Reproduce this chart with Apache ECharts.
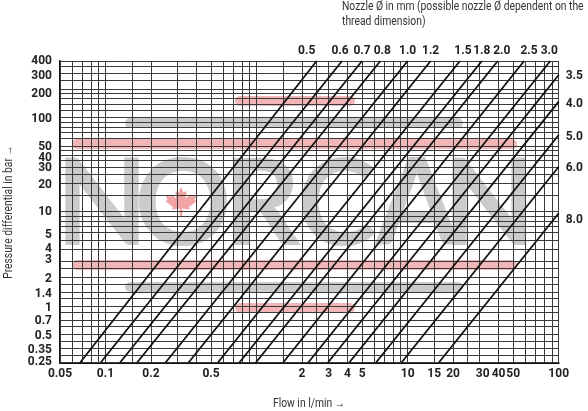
<!DOCTYPE html>
<html><head><meta charset="utf-8">
<script src="https://cdn.jsdelivr.net/npm/echarts@6/dist/echarts.min.js"></script>
<style>html,body{margin:0;padding:0;background:#fff}#c{width:588px;height:411px}</style>
</head><body><div id="c"></div>
<script>
// Nozzle diameters (mm) and line endpoints
const nozzleLabels = ['0.5','0.6','0.7','0.8','1.0','1.2','1.5','1.8','2.0','2.5','3.0','3.5','4.0','5.0','6.0','8.0'];
const startFlow    = [0.068,0.093,0.125,0.162,0.25,0.355,0.555,0.77,0.99,1.5,2.2,2.97,4.11,6.18,9.11,16.1]; // l/min at 0.25 bar
const endFlow      = [2.5,3.68,4.99,6.6,10.0,14.2,22.2,31,39.5,59,88,100,100,100,100,100];
const endPressure  = [400,400,400,400,400,400,400,400,400,400,400,284,148,65.4,30.1,9.63];
const startPressure = 0.25;

const xGridValues = [0.05,0.06,0.07,0.08,0.09,0.1,0.15,0.2,0.3,0.4,0.5,0.6,0.7,0.8,0.9,1,1.5,2,2.5,3,4,5,6,7,8,9,10,15,20,25,30,40,50,60,70,80,90,100];
const xTickLabels = [0.05,0.1,0.2,0.5,2,3,4,5,10,15,20,30,40,50,100];
const yGridValues = [0.25,0.3,0.35,0.42,0.5,0.6,0.7,0.85,1,1.2,1.4,1.7,2,2.5,3,4,5,6,7,8,9,10,15,20,25,30,35,40,45,50,60,70,80,90,100,120,140,160,180,200,250,300,350,400];
const yTickLabels = [0.25,0.35,0.5,0.7,1,1.4,2,3,4,5,10,20,30,40,50,100,200,300,400];

// label nudges (px) to match the printed label placement
const xLabelNudge = {30: 3};
const yLabelNudge = {400:0, 300:3, 200:5, 100:1, 50:1, 40:3, 30:1, 20:1.5, 10:0, 5:-5, 4:0, 3:-0.5, 2:1, 1.4:2, 1:2, 0.7:1, 0.5:2, 0.35:1, 0.25:-0.5};
const nozzleLabelNudge = {'0.5':[-10,0],'0.6':[-2,0],'0.8':[2,0],'1.5':[3,0],'2.0':[4,0],'2.5':[5,0],'3.0':[-1,0],'3.5':[0,1],'4.0':[0,2],'5.0':[0,2],'6.0':[0,1],'8.0':[0,7]};

const TFONT = "Roboto, 'Liberation Sans', sans-serif";
const TICK = {fontFamily: TFONT, fontWeight: 'bold', fontSize: 12, color: '#222'};

const chart = echarts.init(document.getElementById('c'), null, {renderer: 'canvas'});

const series = [];
series.push({
  type: 'line', data: [], silent: true, animation: false,
  markLine: {
    silent: true, animation: false, symbol: ['none','none'],
    lineStyle: {color: '#3a3a3a', width: 1, type: 'solid'},
    emphasis: {disabled: true},
    data: xGridValues.map(v => ({
      xAxis: v,
      label: Object.assign({show: xTickLabels.indexOf(v) >= 0, position: 'start', distance: 5, formatter: String(v),
        offset: [xLabelNudge[v] || 0, 0]}, TICK)
    })).concat(yGridValues.map(v => ({
      yAxis: v,
      label: Object.assign({show: yTickLabels.indexOf(v) >= 0, position: 'start', distance: 8, formatter: String(v),
        offset: [0, yLabelNudge[v] || 0]}, TICK)
    })))
  }
});

nozzleLabels.forEach((name, i) => {
  const isTop = endPressure[i] >= 400;
  series.push({
    type: 'line', name: name, silent: true, animation: false, clip: false,
    showSymbol: true, symbol: 'circle', symbolSize: 0,
    lineStyle: {color: '#111', width: 1.8},
    emphasis: {disabled: true},
    data: [
      {value: [startFlow[i], startPressure], label: {show: false}},
      {value: [endFlow[i], endPressure[i]], label: Object.assign({
        show: true, formatter: name,
        position: isTop ? 'top' : 'right', distance: isTop ? 4 : 7,
        offset: nozzleLabelNudge[name] || [0, 0]
      }, TICK)}
    ],
    z: 5
  });
});

// watermark (beneath grid)
const stripes = [
  {x:235, y:96, w:120, c:'#f3b6b6'},
  {x:125, y:118, w:338, c:'#cbcbcb'},
  {x:72, y:139, w:445, c:'#f3b6b6'},
  {x:72, y:260, w:445, c:'#f3b6b6'},
  {x:125, y:282, w:338, c:'#cbcbcb'},
  {x:235, y:303, w:120, c:'#f3b6b6'}
];
const letters = [['N',102],['O',183],['R',262],['C',337],['A',417],['N',489]];
const leaf = [[0,-1],[0.15,-0.65],[0.35,-0.75],[0.3,-0.3],[0.6,-0.55],[0.65,-0.4],[0.95,-0.45],[0.85,-0.2],[0.95,-0.1],[0.5,0.25],[0.55,0.4],[0.08,0.35],[0.08,0.85],[-0.08,0.85],[-0.08,0.35],[-0.55,0.4],[-0.5,0.25],[-0.95,-0.1],[-0.85,-0.2],[-0.95,-0.45],[-0.65,-0.4],[-0.6,-0.55],[-0.3,-0.3],[-0.35,-0.75],[-0.15,-0.65]];
const graphic = [];
stripes.forEach(s => graphic.push({type:'rect', silent:true, z:0, shape:{x:s.x, y:s.y, width:s.w, height:10, r:5}, style:{fill:s.c}}));
letters.forEach(l => graphic.push({type:'text', silent:true, z:0, x:l[1], y:206, style:{text:l[0], font:"bold 120px Lato, 'DejaVu Sans', sans-serif", fill:'#cbcbcb', textAlign:'center', textVerticalAlign:'middle'}}));
graphic.push({type:'polygon', silent:true, z:0, x:181, y:203, shape:{points: leaf.map(p => [p[0]*16, p[1]*16])}, style:{fill:'#f2a3a3'}});

// titles (condensed by horizontal scaling)
const NFONT = "normal 12px Roboto, 'Liberation Sans', sans-serif";
graphic.push({type:'text', silent:true, z:10, x:342, y:7, scaleX:0.86, style:{text:'Nozzle Ø in mm (possible nozzle Ø dependent on the', font:NFONT, fill:'#333', textAlign:'left', textVerticalAlign:'middle'}});
graphic.push({type:'text', silent:true, z:10, x:342, y:21.5, scaleX:0.86, style:{text:'thread dimension)', font:NFONT, fill:'#333', textAlign:'left', textVerticalAlign:'middle'}});
graphic.push({type:'text', silent:true, z:10, x:309, y:404, scaleX:0.86, style:{text:'Flow in l/min →', font:NFONT, fill:'#333', textAlign:'center', textVerticalAlign:'middle'}});
graphic.push({type:'text', silent:true, z:10, x:8.5, y:212, rotation:Math.PI/2, scaleX:0.86, style:{text:'Pressure differential in bar →', font:NFONT, fill:'#333', textAlign:'center', textVerticalAlign:'middle'}});

chart.setOption({
  animation: false,
  backgroundColor: '#fff',
  grid: {left: 60, right: 29.3, top: 61, bottom: 48.5, containLabel: false},
  xAxis: {
    type: 'log', logBase: 10, min: 0.05, max: 100,
    axisLine: {show: true, onZero: false, lineStyle: {color: '#111', width: 2}},
    axisTick: {show: false}, axisLabel: {show: false}, splitLine: {show: false}
  },
  yAxis: {
    type: 'log', logBase: 10, min: 0.25, max: 400,
    axisLine: {show: true, onZero: false, lineStyle: {color: '#111', width: 2}},
    axisTick: {show: false}, axisLabel: {show: false}, splitLine: {show: false}
  },
  graphic: graphic,
  series: series
});
</script>
</body></html>
